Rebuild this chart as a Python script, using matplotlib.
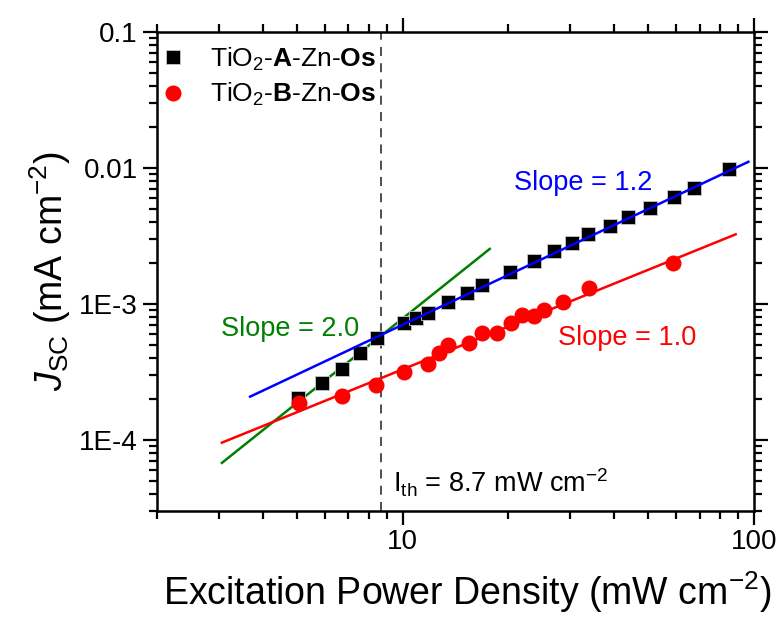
import matplotlib
matplotlib.use("Agg")
import matplotlib.pyplot as plt
from matplotlib.ticker import LogLocator, FuncFormatter, NullFormatter

plt.rcParams['font.family'] = ['Liberation Sans', 'DejaVu Sans']
plt.rcParams['mathtext.fontset'] = 'custom'
plt.rcParams['mathtext.rm'] = 'Liberation Sans'
plt.rcParams['mathtext.it'] = 'Liberation Sans:italic'
plt.rcParams['mathtext.bf'] = 'Liberation Sans:bold'

# --- data ---
power_a = [5.05, 5.89, 6.72, 7.54, 8.45, 10.1, 10.9, 11.8, 13.5, 15.2, 16.8,
           20.2, 23.6, 26.9, 30.4, 33.7, 38.8, 43.9, 50.5, 59.2, 67.4, 84.9]
jsc_a = [2.03e-4, 2.64e-4, 3.33e-4, 4.34e-4, 5.60e-4, 7.21e-4, 7.85e-4, 8.63e-4,
         1.03e-3, 1.21e-3, 1.38e-3, 1.73e-3, 2.08e-3, 2.44e-3, 2.79e-3, 3.25e-3,
         3.76e-3, 4.38e-3, 5.11e-3, 6.15e-3, 7.16e-3, 9.84e-3]

power_b = [5.08, 6.72, 8.41, 10.1, 11.8, 12.66, 13.5, 15.4, 16.8, 18.6, 20.3,
           21.9, 23.6, 25.3, 28.6, 33.9, 58.9]
jsc_b = [1.86e-4, 2.11e-4, 2.54e-4, 3.18e-4, 3.60e-4, 4.38e-4, 5.00e-4, 5.14e-4,
         6.15e-4, 6.15e-4, 7.21e-4, 8.30e-4, 8.20e-4, 9.04e-4, 1.03e-3, 1.30e-3,
         2.01e-3]

# fitted lines (end points)
fit_blue_x = [3.68, 96.4]
fit_blue_y = [2.08e-4, 1.11e-2]
fit_red_x = [3.06, 88.7]
fit_red_y = [9.55e-5, 3.25e-3]
fit_green_x = [3.06, 17.7]
fit_green_y = [6.78e-5, 2.54e-3]

i_th = 8.7

fig = plt.figure(figsize=(7.84, 6.21), dpi=100)
ax = fig.add_axes([0.2003, 0.1771, 0.7614, 0.7714])

ax.plot(fit_green_x, fit_green_y, color='#008000', lw=1.8, zorder=2)
ax.plot(fit_red_x, fit_red_y, color='#ff0000', lw=1.8, zorder=2)
ax.plot(power_a, jsc_a, 's', color='black', ms=10, mec='#c8c8c8', mew=0.6,
        zorder=3, label=r'TiO$_2$-$\mathbf{A}$-Zn-$\mathbf{Os}$')
ax.plot(power_b, jsc_b, 'o', color='#ff0000', ms=10.5, mec='#ff0000',
        zorder=3, label=r'TiO$_2$-$\mathbf{B}$-Zn-$\mathbf{Os}$')
ax.plot(fit_blue_x, fit_blue_y, color='#0000ff', lw=1.8, zorder=4)
ax.axvline(i_th, color='#404040', lw=1.3, ls=(0, (5, 4)), zorder=1)

ax.set_xscale('log')
ax.set_yscale('log')
ax.set_xlim(2, 100)
ax.set_ylim(3e-5, 0.1)

def y_fmt(v, pos):
    labels = {0.1: '0.1', 0.01: '0.01', 1e-3: '1E-3', 1e-4: '1E-4'}
    for k, s in labels.items():
        if abs(v - k) / k < 1e-6:
            return s
    return ''

ax.yaxis.set_major_formatter(FuncFormatter(y_fmt))
ax.xaxis.set_major_formatter(FuncFormatter(lambda v, p: '%g' % v))
ax.xaxis.set_minor_locator(LogLocator(base=10, subs=range(2, 10)))
ax.yaxis.set_minor_locator(LogLocator(base=10, subs=range(2, 10)))
ax.xaxis.set_minor_formatter(NullFormatter())
ax.yaxis.set_minor_formatter(NullFormatter())

ax.tick_params(which='both', direction='out', top=True, right=True,
               width=1.6, labelsize=20, pad=4)
ax.tick_params(which='major', length=10)
ax.tick_params(which='minor', length=6)
ax.tick_params(axis='x', which='major', pad=3)
for sp in ax.spines.values():
    sp.set_linewidth(1.8)

ax.set_xlabel(r'Excitation Power Density (mW cm$^{-2}$)', fontsize=27, labelpad=10)
ax.xaxis.label.set_x(0.52)
ax.set_ylabel(r'$J$$_{\rm SC}$ (mA cm$^{-2}$)', fontsize=27, labelpad=4)

ax.text(0.714, 0.685, 'Slope = 1.2', transform=ax.transAxes, color='#0000ff',
        fontsize=19.5, ha='center', va='center')
ax.text(0.787, 0.361, 'Slope = 1.0', transform=ax.transAxes, color='#ff0000',
        fontsize=19.5, ha='center', va='center')
ax.text(0.223, 0.380, 'Slope = 2.0', transform=ax.transAxes, color='#008000',
        fontsize=19.5, ha='center', va='center')
ax.text(0.395, 0.058, r'I$_{\rm th}$ = 8.7 mW cm$^{-2}$', transform=ax.transAxes,
        color='black', fontsize=19.5, ha='left', va='center')

ax.legend(loc='upper left', bbox_to_anchor=(0, 0.983), frameon=False,
          fontsize=19, handletextpad=1.0, borderaxespad=0, labelspacing=0.32,
          handlelength=0.8, borderpad=0.2)

fig.savefig('out.png', dpi=100)
